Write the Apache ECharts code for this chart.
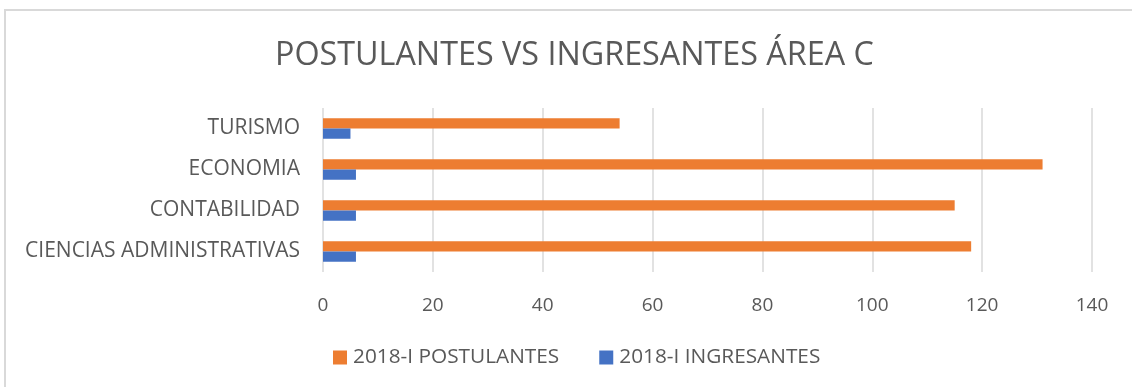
<!DOCTYPE html>
<html>
<head>
<meta charset="utf-8">
<style>
  html, body { margin: 0; padding: 0; background: #ffffff; }
  #chart { width: 1132px; height: 387px; }
</style>
<script src="https://cdn.jsdelivr.net/npm/echarts@6/dist/echarts.min.js"></script>
</head>
<body>
<div id="chart"></div>
<script>
// Careers of Área C, listed bottom to top on the category axis
const categories = ['CIENCIAS ADMINISTRATIVAS', 'CONTABILIDAD', 'ECONOMIA', 'TURISMO'];
const postulantes = [118, 115, 131, 54];
const ingresantes = [6, 6, 6, 5];
const seriesNames = ['2018-I POSTULANTES', '2018-I INGRESANTES'];
const titleText = 'POSTULANTES VS INGRESANTES ÁREA C';

const FONT = '"Open Sans", sans-serif';
const TEXT = '#595959';

const chart = echarts.init(document.getElementById('chart'), null, { renderer: 'canvas' });

chart.setOption({
  animation: false,
  backgroundColor: '#ffffff',
  graphic: [{
    type: 'rect',
    silent: true,
    shape: { x: 5, y: 10, width: 1140, height: 400 },
    style: { fill: 'none', stroke: '#d9d9d9', lineWidth: 2 }
  }],
  title: {
    text: titleText,
    left: 270,
    top: 35,
    textStyle: { fontFamily: FONT, fontSize: 32.3, fontWeight: 'normal', color: TEXT }
  },
  legend: {
    data: seriesNames,
    bottom: 14,
    left: 328,
    itemWidth: 14,
    itemHeight: 14,
    itemGap: 40,
    icon: 'rect',
    textStyle: { fontFamily: FONT, fontSize: 20.8, color: TEXT, padding: [0, 0, 0, 1] }
  },
  grid: {
    left: 323,
    right: 40,
    top: 108,
    height: 164,
    containLabel: false
  },
  xAxis: {
    type: 'value',
    min: 0,
    max: 140,
    interval: 20,
    axisLine: { show: false },
    axisTick: { show: false },
    splitLine: { lineStyle: { color: '#d9d9d9', width: 1.5 } },
    axisLabel: { fontFamily: FONT, fontSize: 19, color: TEXT, margin: 24 }
  },
  yAxis: {
    type: 'category',
    data: categories,
    axisLine: { show: false },
    axisTick: { show: false },
    axisLabel: { fontFamily: FONT, fontSize: 21, color: TEXT, margin: 23 }
  },
  series: [
    {
      name: seriesNames[0],
      type: 'bar',
      data: postulantes,
      itemStyle: { color: '#ED7D31' },
      barGap: '0%',
      barCategoryGap: '50%'
    },
    {
      name: seriesNames[1],
      type: 'bar',
      data: ingresantes,
      itemStyle: { color: '#4472C4' },
      barGap: '0%',
      barCategoryGap: '50%'
    }
  ]
});
</script>
</body>
</html>
